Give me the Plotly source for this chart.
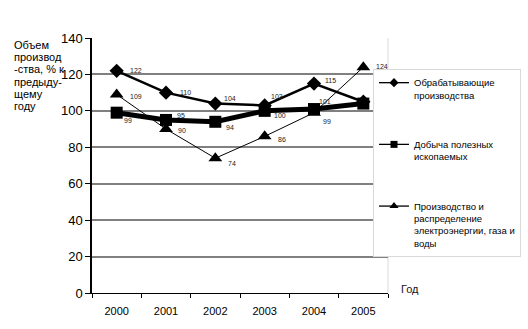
import plotly.graph_objects as go

# Production index by year, % of the previous year
years = ["2000", "2001", "2002", "2003", "2004", "2005"]
manufacturing = [122, 110, 104, 103, 115, 105]
mining = [99, 95, 94, 100, 101, 104]
utilities = [109, 90, 74, 86, 99, 124]

names = [
    "Обрабатывающие<br>производства",
    "Добыча полезных<br>ископаемых",
    "Производство и<br>распределение<br>электроэнергии, газа и<br>воды",
]
y_title_lines = ["Объем", "производ", "-ства, % к", "предыду-", "щему", "году"]
y_ticks = [0, 20, 40, 60, 80, 100, 120, 140]

# pixel offsets of the value labels relative to their points (dx, dy-up);
# None marks a label that sits under the legend box and is not shown
manuf_off = [(19, 0), (19, 0), (15, 5), (12, 9), (16, 3), None]
mining_off = [(11, -8), (15, 4), (15, -6), (15, -5), (11, 8), None]
util_off = [(19, -2), (16, -1), (17, -5), (17, -3), (13, -9), (19, 1)]

FONT = "Arial, Liberation Sans, sans-serif"

W, H = 528, 329
L, R, T, B = 92, 140, 38, 36
pw, ph = W - L - R, H - T - B


def px_x(x):
    return (x - L) / pw


def px_y(y):
    return (H - B - y) / ph


styles = [
    dict(symbol="diamond", size=11, width=2.5, lsize=7),
    dict(symbol="square", size=12, width=5, lsize=7),
    dict(symbol="triangle-up", size=12, width=1, lsize=8),
]
series = [manufacturing, mining, utilities]

fig = go.Figure()
for vals, st in zip(series, styles):
    fig.add_trace(go.Scatter(
        x=years, y=vals, mode="lines+markers", showlegend=False,
        line=dict(color="black", width=st["width"]),
        marker=dict(symbol=st["symbol"], size=st["size"], color="black"),
    ))
# legend entries use a thin line and small marker for every series
for i, (name, st) in enumerate(zip(names, styles)):
    fig.add_trace(go.Scatter(
        x=[None], y=[None], name=name, mode="lines+markers",
        line=dict(color="black", width=1.3),
        marker=dict(symbol=st["symbol"], size=st["lsize"], color="black"),
        legendgroup="g%d" % i,
    ))

annotations = []
for vals, offs in zip(series, (manuf_off, mining_off, util_off)):
    for i, (v, off) in enumerate(zip(vals, offs)):
        if off is None:
            continue
        dx, dy = off
        annotations.append(dict(
            x=i, y=v, xref="x", yref="y", text=str(v), showarrow=False,
            xshift=dx, yshift=dy, font=dict(size=7, color="#222222", family=FONT),
        ))

for k, line in enumerate(y_title_lines):
    annotations.append(dict(
        x=px_x(12), y=px_y(45 + 12.2 * k), xref="paper", yref="paper",
        xanchor="left", yanchor="middle", text=line, showarrow=False,
        font=dict(size=11, color="black", family=FONT),
    ))
annotations.append(dict(
    x=px_x(399), y=px_y(289), xref="paper", yref="paper",
    xanchor="left", yanchor="middle", text="Год", showarrow=False,
    font=dict(size=11, color="#1a1020", family=FONT),
))

fig.update_layout(
    width=W, height=H,
    margin=dict(l=L, r=R, t=T, b=B, autoexpand=False),
    paper_bgcolor="white", plot_bgcolor="white",
    font=dict(family=FONT, color="black"),
    annotations=annotations,
    showlegend=True,
    legend=dict(
        x=px_x(373), y=px_y(69), xanchor="left", yanchor="top",
        bgcolor="white", bordercolor="#d9d9d9", borderwidth=1,
        font=dict(size=9.5, family=FONT, color="black"),
        traceorder="grouped", tracegroupgap=34, valign="top",
        entrywidth=170, entrywidthmode="pixels",
    ),
    xaxis=dict(
        type="category", range=[-0.5, 5.5], tickson="boundaries",
        showline=True, linecolor="black", linewidth=1,
        ticks="outside", ticklen=4, tickcolor="black",
        showgrid=False, tickfont=dict(size=11, color="black"),
        ticklabelstandoff=8,
    ),
    yaxis=dict(
        range=[0, 140], tickvals=y_ticks,
        showline=True, linecolor="black", linewidth=1.5,
        ticks="outside", ticklen=5, tickcolor="black",
        showgrid=True, gridcolor="#808080", gridwidth=1.5,
        zeroline=False, tickfont=dict(size=13, color="black"),
    ),
    shapes=[dict(type="line", xref="paper", yref="paper", x0=1, x1=1, y0=0, y1=1,
                 line=dict(color="#d9d9d9", width=1), layer="below")],
)

fig.write_html("out.html")
